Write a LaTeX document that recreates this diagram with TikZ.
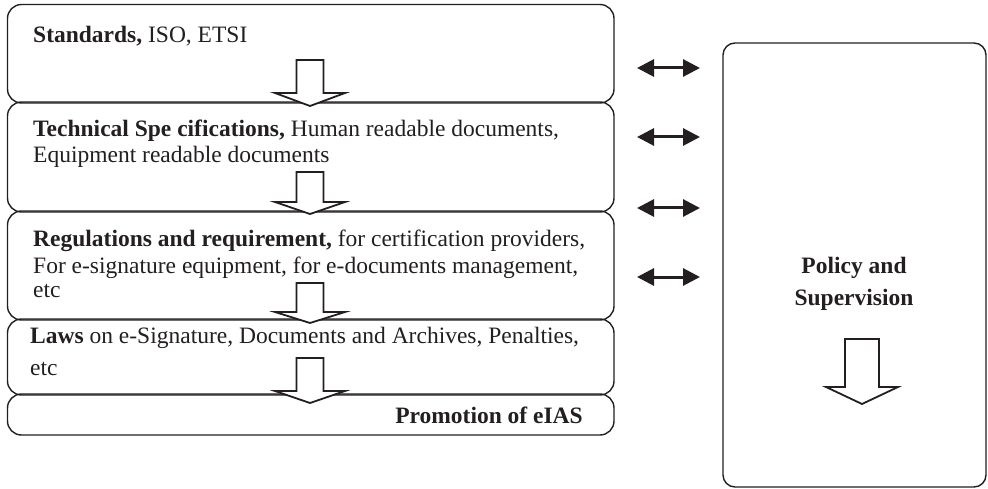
\documentclass[tikz,border=0pt]{standalone}
\usepackage{fontspec}
\setmainfont{Liberation Serif}
\usetikzlibrary{arrows.meta}
\definecolor{ink}{HTML}{231F20}
% hollow block arrow pointing down: centre x, shaft top, head top, tip, shaft half width, head half width
\newcommand\hollowdown[6]{%
  \draw[blockarrow] ({#1-#5},#2) -- ({#1+#5},#2) -- ({#1+#5},#3) -- ({#1+#6},#3)
    -- (#1,#4) -- ({#1-#6},#3) -- ({#1-#5},#3) -- cycle;}
\begin{document}
\begin{tikzpicture}[x=1pt,y=-1pt,
  stack/.style={draw=ink,line width=1.4pt,rounded corners=14pt,anchor=north west,
    inner sep=0pt,outer sep=0pt,minimum width=606.5pt},
  sidebox/.style={draw=ink,line width=1.4pt,rounded corners=12pt,anchor=north west,
    inner sep=0pt,outer sep=0pt,minimum width=263pt,minimum height=444pt},
  blockarrow/.style={draw=ink,fill=white,line width=1.8pt,line join=miter},
  link/.style={draw=ink,line width=3pt,{Triangle[length=17pt,width=17pt]}-{Triangle[length=17pt,width=17pt]}},
  txt/.style={font=\fontsize{23.5}{26}\selectfont,text=ink,inner sep=0pt,anchor=base west},
  ]
\useasboundingbox (0,0) rectangle (988,489);
% the stacked layers
\node[stack,minimum height=98.5pt] (std) at (7.5,4.5) {};
\node[stack,minimum height=110pt] (spec) at (7.5,102) {};
\node[stack,minimum height=109pt] (reg) at (7.5,211) {};
\node[stack,minimum height=76pt] (law) at (7.5,319) {};
\node[stack,minimum height=41pt] (prom) at (7.5,394) {};
% policy column
\node[sidebox] (pol) at (723,43) {};
% layer texts
\node[txt] (t1) at (33,43) {\textbf{Standards,} ISO, ETSI};
\node[txt] (t2a) at (33,137) {\textbf{Technical Spe cifications,} Human readable documents,};
\node[txt] (t2b) at (33,163) {Equipment readable documents};
\node[txt] (t3a) at (33,247) {\textbf{Regulations and requirement,} for certification providers,};
\node[txt] (t3b) at (33,273) {For e-signature equipment, for e-documents management,};
\node[txt] (t3c) at (33,298) {etc};
\node[txt] (t4a) at (30,343) {\textbf{Laws} on e-Signature, Documents and Archives, Penalties,};
\node[txt] (t4b) at (30,375) {etc};
\node[txt,anchor=base east] (t5) at (583,423) {\textbf{Promotion of eIAS}};
\node[txt,anchor=base] (p1) at (854,273) {\textbf{Policy and}};
\node[txt,anchor=base] (p2) at (854,305) {\textbf{Supervision}};
% flow between layers
\hollowdown{310}{60}{93}{106}{13.5}{35}
\hollowdown{310}{172}{202}{214}{13.5}{35}
\hollowdown{310}{283}{312}{323}{13.5}{35}
\hollowdown{310}{358}{391}{403}{13.5}{35}
\hollowdown{862}{339}{387}{404}{17}{36}
% links between the layers and the policy column
\foreach \i/\yy in {1/68,2/137,3/208,4/277}{
  \coordinate (l\i) at (637,\yy);
  \coordinate (r\i) at (700,\yy);
  \draw[link] (l\i) -- (r\i);
}
\end{tikzpicture}
\end{document}
